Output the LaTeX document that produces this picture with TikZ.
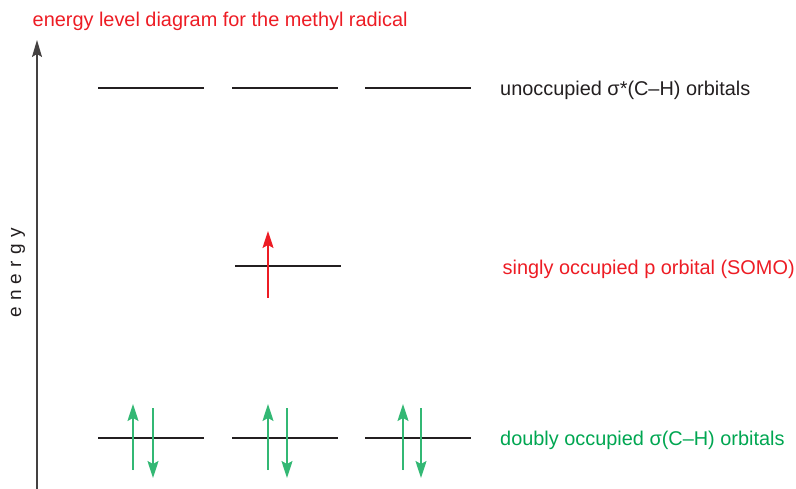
\documentclass[tikz,border=0pt]{standalone}
\usepackage{fontspec}
\setmainfont{Liberation Sans}
\usetikzlibrary{arrows.meta}
\definecolor{myred}{HTML}{ED1C24}
\definecolor{mygreen}{HTML}{00A651}
\definecolor{mydark}{HTML}{231F20}
\tikzset{
  level/.style={line width=2.2pt, draw=mydark},
  lbl/.style={anchor=base west, inner sep=0pt, font=\fontsize{19.9}{22}\selectfont},
  upe/.style={line width=1.6pt, -{Stealth[length=17pt,width=11pt,inset=3pt]}},
}
\begin{document}
\begin{tikzpicture}[x=1pt,y=-1pt]
\useasboundingbox (0,0) rectangle (796,489);
% title
\node[lbl, text=myred] (title) at (32.5,27) {energy level diagram for the methyl radical};
% axis
\coordinate (ax0) at (37,489);
\coordinate (ax1) at (37,40);
\draw[line width=1.3pt, draw=mydark!85, -{Stealth[length=17pt,width=10pt,inset=3pt]}] (ax0) -- (ax1);
\node[rotate=90, inner sep=0pt, text=mydark, font=\fontsize{19}{22}\selectfont\addfontfeatures{LetterSpace=33}] (en) at (18,273) {energy};
% top levels
\foreach \n/\a in {t1/98, t2/232, t3/365} {
  \coordinate (\n a) at (\a,88);
  \coordinate (\n b) at (\a+106,88);
  \draw[level] (\n a) -- (\n b);
}
\node[lbl, text=mydark] (lt) at (500,96) {unoccupied σ*(C–H) orbitals};
% SOMO
\coordinate (sa) at (235,266);
\coordinate (sb) at (341,266);
\draw[level] (sa) -- (sb);
\coordinate (s0) at (268,298);
\coordinate (s1) at (268,231);
\draw[upe, draw=myred, fill=myred] (s0) -- (s1);
\node[lbl, text=myred] (ls) at (502.5,275) {singly occupied p orbital (SOMO)};
% bottom levels
\foreach \n/\a/\u/\d in {b1/98/133/153, b2/232/268/287, b3/365/403/421} {
  \coordinate (\n a) at (\a,438);
  \coordinate (\n b) at (\a+106,438);
  \draw[level] (\n a) -- (\n b);
  \coordinate (\n u0) at (\u,470);
  \coordinate (\n u1) at (\u,404);
  \coordinate (\n d0) at (\d,408);
  \coordinate (\n d1) at (\d,478);
  \draw[upe, draw=mygreen!80, fill=mygreen] (\n u0) -- (\n u1);
  \draw[upe, draw=mygreen!80, fill=mygreen] (\n d0) -- (\n d1);
}
\node[lbl, text=mygreen] (lb) at (500,445) {doubly occupied σ(C–H) orbitals};
\end{tikzpicture}
\end{document}
